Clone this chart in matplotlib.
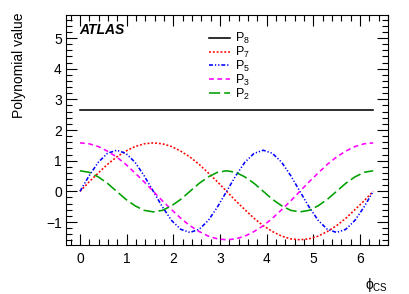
import matplotlib
matplotlib.use("Agg")
import matplotlib.pyplot as plt
from matplotlib.ticker import MultipleLocator

plt.rcParams['font.family'] = ['Liberation Sans', 'DejaVu Sans']
plt.rcParams['mathtext.fontset'] = 'custom'
plt.rcParams['mathtext.rm'] = 'Liberation Sans'
plt.rcParams['mathtext.it'] = 'Liberation Sans:italic'

# phi_CS sample points (0 .. 2pi)
phi = [0.000, 0.196, 0.393, 0.589, 0.785, 0.982, 1.178, 1.374, 1.571,
       1.767, 1.963, 2.160, 2.356, 2.553, 2.749, 2.945, 3.142,
       3.338, 3.534, 3.731, 3.927, 4.123, 4.320, 4.516, 4.712,
       4.909, 5.105, 5.301, 5.498, 5.694, 5.890, 6.087, 6.283]

p8 = [2.66] * len(phi)
p7 = [0.00, 0.31, 0.60, 0.88, 1.12, 1.31, 1.46, 1.55, 1.58,
      1.55, 1.46, 1.31, 1.12, 0.88, 0.60, 0.31, 0.00,
      -0.31, -0.60, -0.88, -1.12, -1.31, -1.46, -1.55, -1.58,
      -1.55, -1.46, -1.31, -1.12, -0.88, -0.60, -0.31, 0.00]
p5 = [0.00, 0.51, 0.95, 1.24, 1.34, 1.24, 0.95, 0.51, 0.00,
      -0.51, -0.95, -1.24, -1.34, -1.24, -0.95, -0.51, 0.00,
      0.51, 0.95, 1.24, 1.34, 1.24, 0.95, 0.51, 0.00,
      -0.51, -0.95, -1.24, -1.34, -1.24, -0.95, -0.51, 0.00]
p3 = [1.58, 1.55, 1.46, 1.31, 1.12, 0.88, 0.60, 0.31, 0.00,
      -0.31, -0.60, -0.88, -1.12, -1.31, -1.46, -1.55, -1.58,
      -1.55, -1.46, -1.31, -1.12, -0.88, -0.60, -0.31, 0.00,
      0.31, 0.60, 0.88, 1.12, 1.31, 1.46, 1.55, 1.58]
p2 = [0.67, 0.62, 0.47, 0.26, 0.00, -0.26, -0.47, -0.62, -0.67,
      -0.62, -0.47, -0.26, 0.00, 0.26, 0.47, 0.62, 0.67,
      0.62, 0.47, 0.26, 0.00, -0.26, -0.47, -0.62, -0.67,
      -0.62, -0.47, -0.26, 0.00, 0.26, 0.47, 0.62, 0.67]

series = [
    ('P$_\\mathregular{8}$', p8, 'black', '-'),
    ('P$_\\mathregular{7}$', p7, '#ff0000', (0, (1.2, 1.2))),
    ('P$_\\mathregular{5}$', p5, '#0000ff', (0, (2.5, 1.2, 0.8, 1.2, 0.8, 1.2))),
    ('P$_\\mathregular{3}$', p3, '#ff00ff', (0, (3, 2.2))),
    ('P$_\\mathregular{2}$', p2, '#00a000', (0, (7, 2.5))),
]

fig = plt.figure(figsize=(4.09, 2.94), dpi=100)
ax = fig.add_axes([66 / 409, 1 - 245 / 294, 322 / 409, 230 / 294])

for label, vals, col, ls in series:
    ax.plot(phi, vals, color=col, linestyle=ls, linewidth=1.15, label=label)

ax.set_xlim(-0.3, 6.6)
ax.set_ylim(-1.75, 5.75)
ax.xaxis.set_major_locator(MultipleLocator(1))
ax.xaxis.set_minor_locator(MultipleLocator(0.2))
ax.yaxis.set_major_locator(MultipleLocator(1))
ax.yaxis.set_minor_locator(MultipleLocator(0.2))
ax.tick_params(which='both', direction='in', top=True, right=True,
               labelsize=10, width=0.8)
ax.tick_params(which='major', length=8, pad=5)
ax.tick_params(which='minor', length=4)
ax.tick_params(axis='y', which='major', pad=3)
for s in ax.spines.values():
    s.set_linewidth(0.8)

ax.set_ylabel('Polynomial value', fontsize=10, loc='top')
ax.yaxis.set_label_coords(-0.125, 1.01)
ax.set_xlabel('ϕ$_\\mathregular{CS}$', fontsize=10, loc='right', labelpad=7)

ax.text(0.04, 0.965, 'ATLAS', transform=ax.transAxes, fontsize=10,
        fontweight='bold', fontstyle='italic', va='top', ha='left')

ax.legend(loc='upper left', bbox_to_anchor=(0.444, 0.93), frameon=False,
          fontsize=9, handlelength=1.7, handletextpad=0.38,
          labelspacing=-0.1, borderpad=0, borderaxespad=0)

fig.savefig('out.png', dpi=100)
